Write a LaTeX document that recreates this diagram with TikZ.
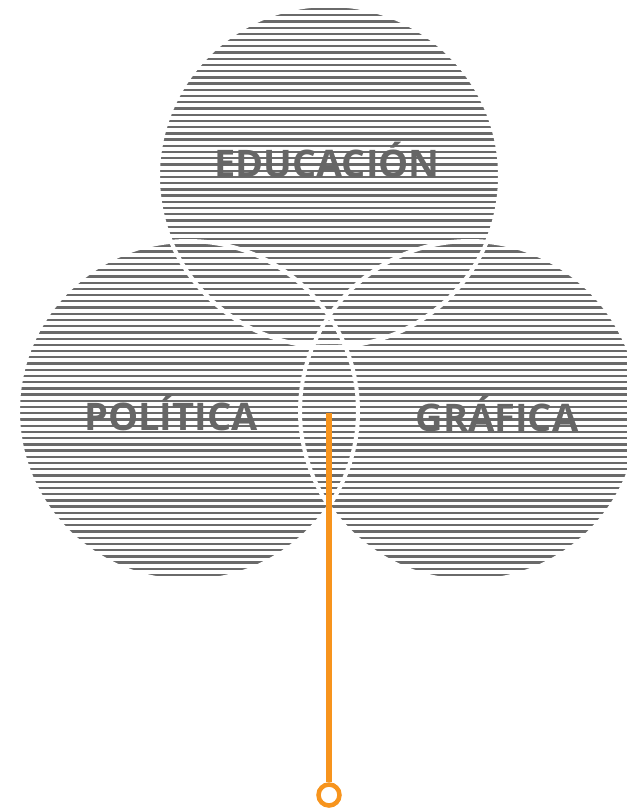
\documentclass[tikz,border=0pt]{standalone}
\usepackage{fontspec}
\setmainfont{Open Sans}
\definecolor{hatch}{HTML}{6A6A6A}
\definecolor{lbl}{HTML}{666666}
\definecolor{orng}{HTML}{F7941D}
\begin{document}
\begin{tikzpicture}[x=1pt,y=-1pt,
  hatchline/.style={draw=hatch,line width=2.3pt},
  gapline/.style={draw=white,line width=4pt},
  setlabel/.style={text=lbl,font=\fontsize{38}{38}\selectfont\bfseries,anchor=base,inner sep=0pt},
  pinline/.style={draw=orng,line width=6pt},
  pinring/.style={draw=orng,line width=4.5pt,fill=white,circle,minimum size=21pt,inner sep=0pt}]
\useasboundingbox (0,0) rectangle (627,809);
\coordinate (ctop) at (329,176);
\coordinate (cleft) at (188,411);
\coordinate (cright) at (470,411);
\begin{scope}
  \clip (ctop) circle (171) (cleft) circle (170) (cright) circle (170);
  \foreach \k in {0,...,95} {
    \draw[hatchline] (0,{9+\k*6.22}) -- (627,{9+\k*6.22});
  }
\end{scope}
\draw[gapline] (ctop) circle (171);
\draw[gapline] (cleft) circle (170);
\draw[gapline] (cright) circle (170);
\node[setlabel] (edu) at (327,177) {EDUCACIÓN};
\node[setlabel] (pol) at (171,430) {POLÍTICA};
\node[setlabel] (gra) at (497,431) {GRÁFICA};
\coordinate (pintop) at (329,413);
\node[pinring] (ring) at (329,795) {};
\draw[pinline] (pintop) -- (ring.north);
\end{tikzpicture}
\end{document}
